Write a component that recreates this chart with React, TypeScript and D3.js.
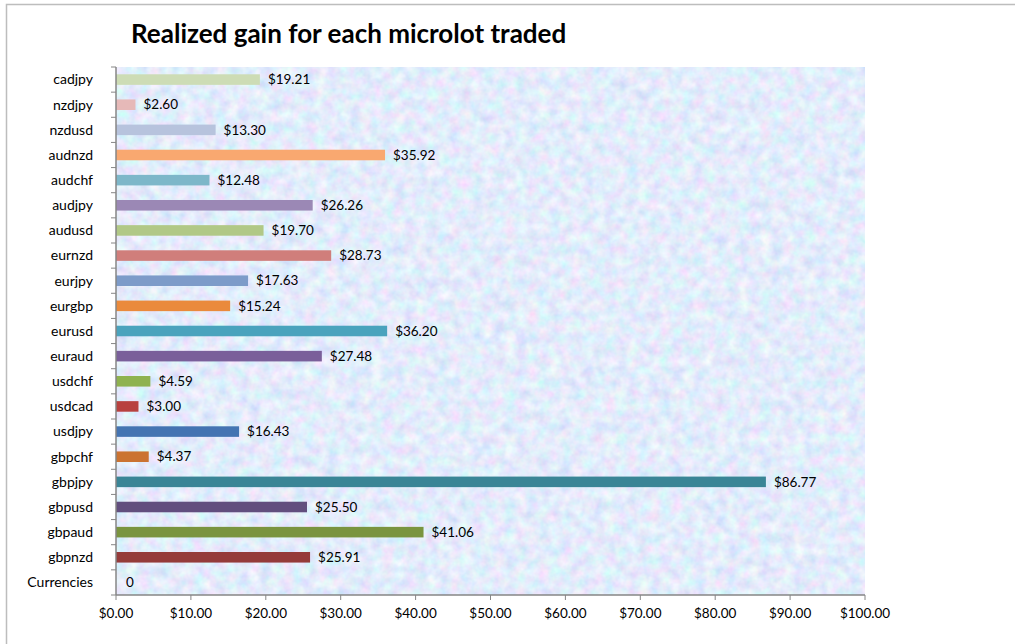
import * as d3 from 'd3';

const categories = [
  'Currencies', 'gbpnzd', 'gbpaud', 'gbpusd', 'gbpjpy', 'gbpchf', 'usdjpy',
  'usdcad', 'usdchf', 'euraud', 'eurusd', 'eurgbp', 'eurjpy', 'eurnzd',
  'audusd', 'audjpy', 'audchf', 'audnzd', 'nzdusd', 'nzdjpy', 'cadjpy',
];
const gains = [
  0, 25.91, 41.06, 25.5, 86.77, 4.37, 16.43, 3.0, 4.59, 27.48, 36.2, 15.24,
  17.63, 28.73, 19.7, 26.26, 12.48, 35.92, 13.3, 2.6, 19.21,
];
const barColors = [
  '#953b3a', '#953b3a', '#7a943f', '#624e7e', '#3a8596', '#cb7331', '#4474b2',
  '#b8413f', '#8fb24f', '#7a5f9a', '#4aa3bd', '#ea8a3c', '#7d9bc9', '#d07e7b',
  '#b1c886', '#9b88b5', '#7db7c9', '#f9a870', '#b7c3dd', '#e6b9b8', '#cddcb5',
];
const xTicks = [0, 10, 20, 30, 40, 50, 60, 70, 80, 90, 100];

export default function App() {
  const width = 1015;
  const height = 644;
  const margin = { top: 67, right: 150, bottom: 49, left: 116 };
  const innerWidth = width - margin.left - margin.right;
  const innerHeight = height - margin.top - margin.bottom;

  const xScale = d3.scaleLinear().domain([0, 100]).range([0, innerWidth]);
  const yScale = d3
    .scaleBand()
    .domain([...categories].reverse())
    .range([0, innerHeight])
    .paddingInner(0.58)
    .paddingOuter(0.29);
  const step = yScale.step();
  const fmt = (v) => (v === 0 ? '0' : '$' + v.toFixed(2));
  const font = 'Lato, "Open Sans", sans-serif';

  return (
    <svg
      width={width}
      height={height}
      style={{ position: 'absolute', left: 0, top: 0, fontFamily: font }}
    >
      <defs>
        <filter id="paper" x="0" y="0" width="100%" height="100%">
          <feTurbulence type="fractalNoise" baseFrequency="0.09" numOctaves="3" seed="4" />
          <feColorMatrix
            type="matrix"
            values="0.5 0 0 0 0.52  0 0.4 0 0 0.64  0 0 0.15 0 0.89  0 0 0 0 1"
          />
        </filter>
      </defs>
      <rect x={0} y={0} width={width} height={height} fill="#fff" />
      <path d="M6.5,644 V4.5 H1015" fill="none" stroke="#bdbdbd" strokeWidth={1.5} />
      <text x={131} y={43} fontSize={26} fontWeight="bold" fill="#000">
        Realized gain for each microlot traded
      </text>
      <g transform={`translate(${margin.left}, ${margin.top})`}>
        <rect width={innerWidth} height={innerHeight} filter="url(#paper)" />
        {categories.map((c, i) => (
          <g key={c}>
            <rect
              x={0}
              y={yScale(c)}
              width={xScale(gains[i])}
              height={yScale.bandwidth()}
              fill={barColors[i]}
            />
            <text
              x={xScale(gains[i]) + (gains[i] === 0 ? 10 : 8)}
              y={yScale(c) + yScale.bandwidth() / 2}
              dy="0.35em"
              fontSize={13.5}
              fill="#000"
            >
              {fmt(gains[i])}
            </text>
            <text
              x={-23}
              y={yScale(c) + yScale.bandwidth() / 2}
              dy="0.35em"
              textAnchor="end"
              fontSize={14}
              fill="#000"
            >
              {c}
            </text>
          </g>
        ))}
        {d3.range(categories.length + 1).map((k) => (
          <line key={k} x1={-5} x2={0} y1={k * step} y2={k * step} stroke="#868686" />
        ))}
        <line x1={0} x2={0} y1={0} y2={innerHeight} stroke="#868686" strokeWidth={1.5} />
        <line x1={0} x2={innerWidth} y1={innerHeight} y2={innerHeight} stroke="#868686" strokeWidth={1.5} />
        {xTicks.map((t) => (
          <g key={t} transform={`translate(${xScale(t)}, ${innerHeight})`}>
            <line y1={0} y2={5} stroke="#868686" />
            <text y={23} textAnchor="middle" fontSize={13.5} fill="#000">
              {'$' + t.toFixed(2)}
            </text>
          </g>
        ))}
      </g>
    </svg>
  );
}
